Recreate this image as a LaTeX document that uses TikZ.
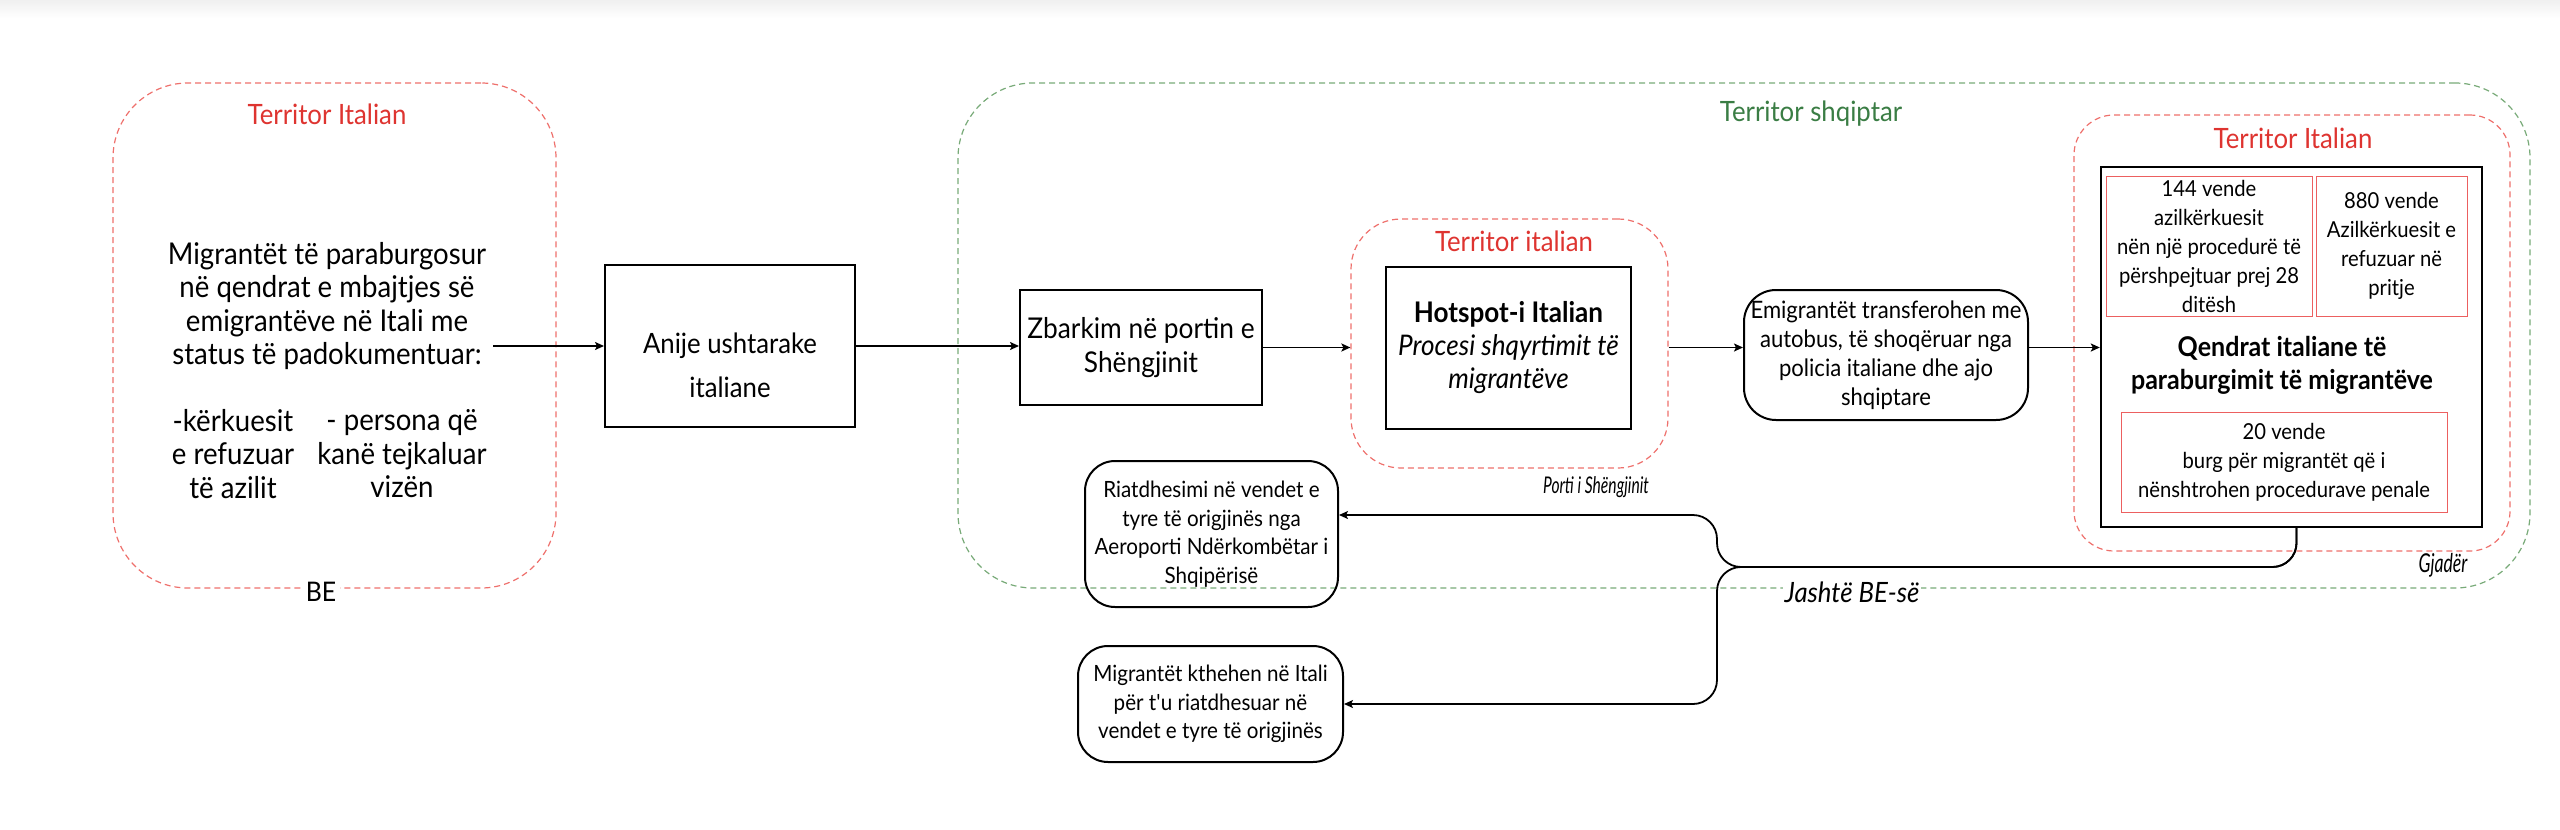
\documentclass[tikz,border=0pt]{standalone}
\usepackage{fontspec}
\setmainfont{Lato}[FakeStretch=0.92]
\newfontfamily\narrowlato{Lato}[FakeStretch=0.68]
\usetikzlibrary{arrows.meta}
\definecolor{terrred}{RGB}{222,52,48}
\definecolor{dashred}{RGB}{238,112,108}
\definecolor{terrgreen}{RGB}{58,125,68}
\definecolor{dashgreen}{RGB}{120,170,120}
\definecolor{seatred}{RGB}{236,96,96}
\begin{document}
\begin{tikzpicture}[x=0.5pt, y=-0.5pt,
  >={Stealth[length=4.5pt,width=4pt,inset=1pt]},
  territory/.style={draw=#1, dash pattern=on 3pt off 2pt, line width=0.6pt, inner sep=0pt},
  title/.style={font=\fontsize{14}{17}\selectfont},
  plainbox/.style={draw, line width=1pt, align=center, inner sep=0pt},
  roundbox/.style={draw, line width=1pt, rounded corners=16pt, align=center, inner sep=0pt,
    font=\fontsize{12}{14.5}\selectfont},
  seatbox/.style={draw=seatred, line width=0.5pt, align=center, inner sep=0pt,
    font=\fontsize{11}{14.5}\selectfont},
  body/.style={align=center, font=\fontsize{15}{16.75}\selectfont},
  note/.style={font=\narrowlato\itshape\fontsize{11.5}{13}\selectfont},
  flow/.style={->, line width=0.9pt}]
\useasboundingbox (0,0) rectangle (2560,830);
\shade[top color=black!6, bottom color=white] (0,0) rectangle (2560,18);

% BE, Italy
\node[territory=dashred, rounded corners=37.5pt, minimum width=221.5pt, minimum height=252.5pt] at (334.5,335.5) (beleft) {};
\node[title, text=terrred] at (327,114) (italytitle) {Territor Italian};
\node[body] at (327,306) (detained) {Migrantët të paraburgosur\\në qendrat e mbajtjes së\\emigrantëve në Itali me\\status të padokumentuar:};
\node[body] at (233,454) (refused) {-kërkuesit\\e refuzuar\\të azilit};
\node[body] at (402,454) (overstay) {- persona që\\kanë tejkaluar\\vizën};
\node[fill=white, inner sep=2pt, font=\fontsize{13.5}{15}\selectfont] at (321,592) (eu) {BE};
\coordinate (detout) at (493,346);

\node[plainbox, minimum width=125pt, minimum height=81pt] at (730,346) (ship) {};
\node[align=center, font=\fontsize{14}{22}\selectfont] at (730,365) (shiptxt) {Anije ushtarake\\italiane};

% Albania
\node[territory=dashgreen, rounded corners=37.5pt, minimum width=786pt, minimum height=252.5pt] at (1744,335.5) (albania) {};
\node[title, text=terrgreen] at (1811,114) (albtitle) {Territor shqiptar};
\node[fill=white, inner sep=1pt, font=\fontsize{14}{16}\selectfont\itshape] at (1852,592) (outside) {Jashtë BE-së};

\node[plainbox, minimum width=121pt, minimum height=57.5pt, font=\fontsize{14.3}{17}\selectfont] at (1141,347.5) (landing) {Zbarkim në portin e\\Shëngjinit};

\node[territory=dashred, rounded corners=25pt, minimum width=158.5pt, minimum height=124.5pt] at (1509.5,343.5) (portzone) {};
\node[title, text=terrred] at (1514,241) (porttitle) {Territor italian};
\node[plainbox, minimum width=122.5pt, minimum height=81pt, font=\fontsize{14.2}{16.5}\selectfont] at (1508.5,348) (hotspot) {\textbf{Hotspot-i Italian}\\\textit{Procesi shqyrtimit të}\\\textit{migrantëve}};
\node[note] at (1596,487) (porttag) {Porti i Shëngjinit};

\node[roundbox, minimum width=142pt, minimum height=65pt] at (1886,355) (bus) {Emigrantët transferohen me\\autobus, të shoqëruar nga\\policia italiane dhe ajo\\shqiptare};

% Gjader
\node[territory=dashred, rounded corners=20pt, minimum width=218pt, minimum height=218pt] at (2292,333) (gjzone) {};
\node[title, text=terrred] at (2293,138) (gjtitle) {Territor Italian};
\node[plainbox, line width=1.2pt, minimum width=190.5pt, minimum height=180pt] at (2291.5,347) (centre) {};
\node[seatbox, minimum width=103pt, minimum height=70pt] at (2209,246) (fast) {144 vende\\azilkërkuesit\\nën një procedurë të\\përshpejtuar prej 28\\ditësh};
\node[seatbox, minimum width=75.5pt, minimum height=70pt] at (2391.5,246) (waiting) {880 vende\\Azilkërkuesit e\\refuzuar në\\pritje};
\node[align=center, font=\fontsize{13.6}{16.5}\selectfont\bfseries] at (2282,365) (centretxt) {Qendrat italiane të\\paraburgimit të migrantëve};
\node[seatbox, minimum width=163pt, minimum height=50pt] at (2284,462) (prison) {20 vende\\burg për migrantët që i\\nënshtrohen procedurave penale};
\node[note, font=\narrowlato\itshape\fontsize{13}{15}\selectfont] at (2443,565) (gjtag) {Gjadër};

% returns
\node[roundbox, rounded corners=15pt, minimum width=126.5pt, minimum height=73pt, font=\fontsize{11.2}{14.25}\selectfont] at (1211.5,534) (airport) {Riatdhesimi në vendet e\\tyre të origjinës nga\\Aeroporti Ndërkombëtar i\\Shqipërisë};
\node[roundbox, rounded corners=15pt, minimum width=132.5pt, minimum height=58pt, font=\fontsize{11.2}{14.25}\selectfont] at (1210.5,704) (backitaly) {Migrantët kthehen në Itali\\për t\textquotesingle u riatdhesuar në\\vendet e tyre të origjinës};
\coordinate (split) at (1717,567);

\draw[flow] (detout) -- (ship);
\draw[flow] (ship.east) -- (ship.east -| landing.west);
\draw[flow] (landing.east) -- (landing.east -| portzone.west);
\draw[flow] (portzone.east |- landing.east) -- (bus.west |- landing.east);
\draw[flow] (bus.east |- landing.east) -- (centre.west |- landing.east);
\draw[flow, rounded corners=12pt] ([xshift=2.5pt]centre.south) |- (split) |- ([yshift=9.5pt]airport.east);
\draw[flow, rounded corners=12pt] ([xshift=2.5pt]centre.south) |- (split) |- (backitaly.east);
\end{tikzpicture}
\end{document}
